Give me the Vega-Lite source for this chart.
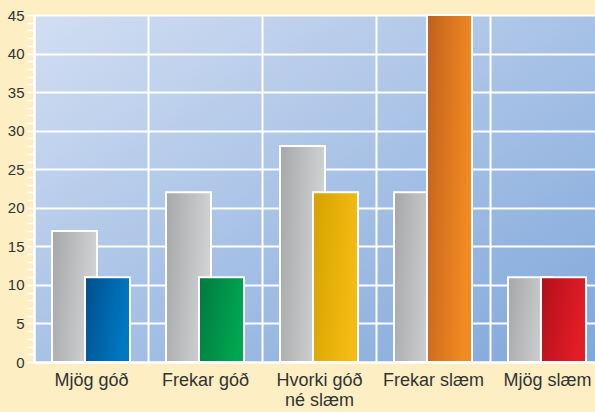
{
  "$schema": "https://vega.github.io/schema/vega-lite/v6.json",
  "width": 570,
  "height": 347,
  "autosize": "none",
  "padding": {"left": 34, "top": 15, "right": 0, "bottom": 50},
  "background": "#fdeec4",
  "config": {
    "view": {
      "stroke": null,
      "fill": {
        "gradient": "linear", "x1": 0, "y1": 0, "x2": 1, "y2": 1,
        "stops": [
          {"offset": 0, "color": "#d2def2"},
          {"offset": 0.5, "color": "#a8c2e6"},
          {"offset": 1, "color": "#7fa7da"}
        ]
      }
    }
  },
  "data": {
    "values": [
      {"flokkur": "Mjög góð", "hopur": "grár", "gildi": 17},
      {"flokkur": "Mjög góð", "hopur": "litur", "gildi": 11},
      {"flokkur": "Frekar góð", "hopur": "grár", "gildi": 22},
      {"flokkur": "Frekar góð", "hopur": "litur", "gildi": 11},
      {"flokkur": "Hvorki góð né slæm", "hopur": "grár", "gildi": 28},
      {"flokkur": "Hvorki góð né slæm", "hopur": "litur", "gildi": 22},
      {"flokkur": "Frekar slæm", "hopur": "grár", "gildi": 22},
      {"flokkur": "Frekar slæm", "hopur": "litur", "gildi": 45},
      {"flokkur": "Mjög slæm", "hopur": "grár", "gildi": 11},
      {"flokkur": "Mjög slæm", "hopur": "litur", "gildi": 11}
    ]
  },
  "encoding": {
    "x": {
      "field": "flokkur", "type": "nominal", "sort": null,
      "scale": {"paddingInner": 0, "paddingOuter": 0},
      "axis": {
        "title": null, "labelAngle": 0, "ticks": false, "tickBand": "extent",
        "grid": true, "gridColor": "white", "gridWidth": 2, "gridOpacity": 1,
        "domain": true, "domainColor": "white", "domainWidth": 2,
        "labelFont": "Liberation Sans", "labelFontSize": 18, "labelColor": "#333333",
        "labelPadding": 9, "labelLineHeight": 20, "labelBaseline": "top",
        "labelExpr": "datum.label == 'Hvorki góð né slæm' ? ['Hvorki góð', 'né slæm'] : datum.label"
      }
    },
    "y": {
      "field": "gildi", "type": "quantitative",
      "scale": {"domain": [0, 45], "nice": false},
      "axis": {
        "title": null,
        "values": [0,1,2,3,4,5,6,7,8,9,10,11,12,13,14,15,16,17,18,19,20,21,22,23,24,25,26,27,28,29,30,31,32,33,34,35,36,37,38,39,40,41,42,43,44,45],
        "grid": true, "gridColor": "white", "gridWidth": 2,
        "gridOpacity": {"condition": {"test": "datum.value % 5 === 0", "value": 1}, "value": 0},
        "ticks": true, "tickColor": "white", "tickWidth": 1.5, "tickSize": 7,
        "domain": true, "domainColor": "white", "domainWidth": 2,
        "labelExpr": "datum.value % 5 === 0 ? datum.label : ''",
        "labelFont": "Liberation Sans", "labelFontSize": 15, "labelColor": "#333333",
        "labelPadding": 3
      }
    }
  },
  "layer": [
    {
      "transform": [{"filter": "datum.hopur == 'grár'"}],
      "mark": {
        "type": "bar", "width": 45, "xOffset": -16.5, "stroke": "white", "strokeWidth": 2,
        "fill": {"gradient": "linear", "x1": 0, "y1": 0, "x2": 1, "y2": 0.2,
          "stops": [{"offset": 0, "color": "#a6a7a9"}, {"offset": 1, "color": "#d1d2d4"}]}
      }
    },
    {
      "transform": [{"filter": "datum.hopur == 'litur' && datum.flokkur == 'Mjög góð'"}],
      "mark": {
        "type": "bar", "width": 45, "xOffset": 16.5, "stroke": "white", "strokeWidth": 2,
        "fill": {"gradient": "linear", "x1": 0, "y1": 0, "x2": 1, "y2": 0.3,
          "stops": [{"offset": 0, "color": "#004e8c"}, {"offset": 1, "color": "#0079c2"}]}
      }
    },
    {
      "transform": [{"filter": "datum.hopur == 'litur' && datum.flokkur == 'Frekar góð'"}],
      "mark": {
        "type": "bar", "width": 45, "xOffset": 16.5, "stroke": "white", "strokeWidth": 2,
        "fill": {"gradient": "linear", "x1": 0, "y1": 0, "x2": 1, "y2": 0.3,
          "stops": [{"offset": 0, "color": "#007a3e"}, {"offset": 1, "color": "#00a651"}]}
      }
    },
    {
      "transform": [{"filter": "datum.hopur == 'litur' && datum.flokkur == 'Hvorki góð né slæm'"}],
      "mark": {
        "type": "bar", "width": 45, "xOffset": 16.5, "stroke": "white", "strokeWidth": 2,
        "fill": {"gradient": "linear", "x1": 0, "y1": 0, "x2": 1, "y2": 0.3,
          "stops": [{"offset": 0, "color": "#d6a200"}, {"offset": 1, "color": "#f4bb12"}]}
      }
    },
    {
      "transform": [{"filter": "datum.hopur == 'litur' && datum.flokkur == 'Frekar slæm'"}],
      "mark": {
        "type": "bar", "width": 45, "xOffset": 16.5, "stroke": "white", "strokeWidth": 2,
        "fill": {"gradient": "linear", "x1": 0, "y1": 0, "x2": 1, "y2": 0.3,
          "stops": [{"offset": 0, "color": "#c0611c"}, {"offset": 1, "color": "#f28a22"}]}
      }
    },
    {
      "transform": [{"filter": "datum.hopur == 'litur' && datum.flokkur == 'Mjög slæm'"}],
      "mark": {
        "type": "bar", "width": 45, "xOffset": 16.5, "stroke": "white", "strokeWidth": 2,
        "fill": {"gradient": "linear", "x1": 0, "y1": 0, "x2": 1, "y2": 0.3,
          "stops": [{"offset": 0, "color": "#b0101b"}, {"offset": 1, "color": "#e31d26"}]}
      }
    }
  ]
}
